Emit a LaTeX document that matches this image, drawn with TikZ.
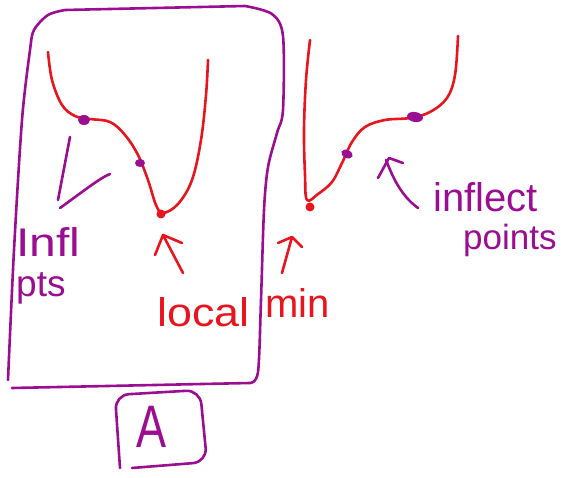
\documentclass[tikz,border=0pt]{standalone}
\usepackage{fontspec}
\setmainfont{Liberation Sans}
\definecolor{pen}{RGB}{155,14,145}
\definecolor{ink}{RGB}{232,20,30}
\begin{document}
\begin{tikzpicture}[x=1pt,y=-1pt,
  penline/.style={draw=pen,line width=2.6pt,line cap=round,line join=round},
  inkline/.style={draw=ink,line width=2.6pt,line cap=round,line join=round},
  pentext/.style={text=pen,font=\fontsize{40}{40}\selectfont,inner sep=0pt,anchor=base west},
  inktext/.style={text=ink,font=\fontsize{40}{40}\selectfont,inner sep=0pt,anchor=base west}]
\useasboundingbox (0,0) rectangle (568,478);
% big box
\draw[penline] plot[smooth] coordinates {(8,380) (14,250) (22,120) (30,50) (34,30) (48,15) (65,10)}
  -- (245,6) plot[smooth] coordinates {(245,6) (272,14) (283,36) (283,110) (277,133) (268,167) (264,210) (261,300) (258,372) (250,383)}
  -- (12,388);
% left curve
\draw[inkline] plot[smooth,tension=0.6] coordinates {(48,52) (52,80) (62,105) (75,116) (90,119) (110,122) (125,135) (138,155) (148,180) (156,205) (163,213) (178,204) (192,180) (201,140) (206,95) (208,60)};
\fill[pen] (84,120) ellipse (6pt and 5pt);
\fill[pen] (140,163) ellipse (5pt and 4pt);
\fill[ink] (161,214) circle (4.5pt);
% right curve
\draw[inkline] plot[smooth,tension=0.6] coordinates {(310,40) (306,80) (304,130) (305,175) (307,200) (318,194) (332,182) (342,163) (352,142) (365,127) (385,120) (410,118) (430,112) (447,98) (455,75) (458,36)};
\fill[ink] (310,207) circle (4.5pt);
\fill[pen,rotate around={-25:(347,154)}] (347,154) ellipse (6pt and 4pt);
\fill[pen,rotate around={-10:(415,117)}] (415,117) ellipse (8pt and 5pt);
% left annotation
\draw[penline] (70,137) -- (58,200);
\draw[penline] (60,208) .. controls (85,190) and (100,178) .. (110,174);
\node[pentext] (infl) at (16,257) {\scalebox{1.2}[1]{Infl}};
\node[pentext,font=\fontsize{37}{37}\selectfont] (pts) at (16,297) {pts};
% local min arrow
\coordinate (la1) at (183,273);
\coordinate (la2) at (163,235);
\draw[inkline] (la1) -- (la2) -- (155,255) (la2) -- (182,243);
\node[inktext] (local) at (157,327) {\scalebox{1.12}[1]{local}};
\node[inktext] (min) at (265,318) {min};
% right min arrow
\coordinate (ma1) at (282,273);
\coordinate (ma2) at (292,237);
\draw[inkline] (ma1) -- (ma2) -- (278,243) (ma2) -- (302,247);
% inflect arrow
\coordinate (ra1) at (418,208);
\coordinate (ra2) at (386,160);
\draw[penline] (ra1) .. controls (400,195) and (392,175) .. (ra2);
\draw[penline] (403,163) -- (389,158) -- (378,178);
\node[pentext] (inflect) at (433,212) {inflect};
\node[pentext,font=\fontsize{35}{35}\selectfont] (points) at (463,250) {points};
% A box
\draw[penline,rounded corners=14pt] (120,468) -- (115,395) -- (200,390) -- (207,462) -- (132,468);
\node[pentext,font=\fontsize{50}{50}\selectfont,anchor=center] (A) at (152,427) {\scalebox{0.9}[1.2]{A}};
\end{tikzpicture}
\end{document}
